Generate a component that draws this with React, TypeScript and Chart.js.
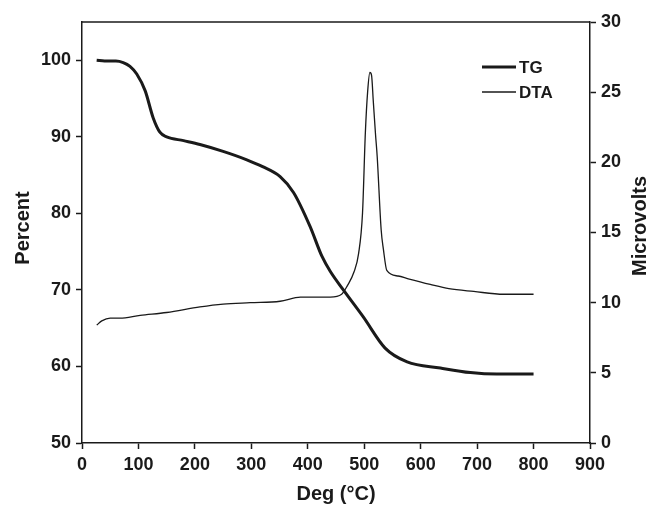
import React, { useEffect, useRef } from "react";
import { Chart, registerables } from "chart.js";

Chart.register(...registerables);

const tgTemp = [26, 40, 60, 73, 85, 97, 112, 126, 138, 150, 180, 209, 250, 292, 320, 351, 375, 404, 425, 440, 463, 498, 537, 576, 635, 688, 735, 800];
const tgPercent = [100.0, 99.9, 99.9, 99.7, 99.2, 98.2, 96.0, 92.5, 90.6, 90.0, 89.5, 89.0, 88.1, 87.0, 86.1, 84.8, 82.7, 78.3, 74.4, 72.4, 70.0, 66.5, 62.4, 60.6, 59.8, 59.2, 59.0, 59.0];

const dtaTemp = [26, 35, 50, 67, 103, 150, 209, 250, 298, 351, 387, 440, 460, 470, 482, 490, 497, 502, 506, 510, 513, 516, 520, 523, 530, 534, 540, 560, 578, 617, 650, 694, 747, 800];
const dtaMicrovolts = [8.4, 8.7, 8.9, 8.9, 9.1, 9.3, 9.7, 9.9, 10.0, 10.1, 10.4, 10.4, 10.6, 11.2, 12.2, 13.5, 16.4, 22.1, 25.0, 26.4, 26.2, 24.4, 22.0, 20.4, 15.2, 13.8, 12.3, 11.9, 11.7, 11.3, 11.0, 10.8, 10.6, 10.6];

const leftTicks = [50, 60, 70, 80, 90, 100];
const rightTicks = [0, 5, 10, 15, 20, 25, 30];
const xTicks = [0, 100, 200, 300, 400, 500, 600, 700, 800, 900];

const seriesNames = ["TG", "DTA"];
const axisTitles = { x: "Deg (°C)", left: "Percent", right: "Microvolts" };

const FONT = "'Liberation Sans', Arial, sans-serif";
const INK = "#1a1a1a";

const decorPlugin = {
  id: "decor",
  afterDraw(chart: any) {
    const ctx = chart.ctx;
    const a = chart.chartArea;
    ctx.save();
    // top border
    ctx.strokeStyle = INK;
    ctx.lineWidth = 1.5;
    ctx.beginPath();
    ctx.moveTo(a.left, a.top);
    ctx.lineTo(a.right, a.top);
    ctx.stroke();

    // titles
    ctx.fillStyle = INK;
    ctx.font = `bold 20px ${FONT}`;
    ctx.textAlign = "center";
    ctx.textBaseline = "middle";
    ctx.fillText(axisTitles.x, (a.left + a.right) / 2, 494);

    ctx.save();
    ctx.translate(23, 228);
    ctx.rotate(-Math.PI / 2);
    ctx.fillText(axisTitles.left, 0, 0);
    ctx.restore();

    ctx.save();
    ctx.translate(640, 226);
    ctx.rotate(-Math.PI / 2);
    ctx.fillText(axisTitles.right, 0, 0);
    ctx.restore();

    // legend
    const ys = [67, 92];
    const widths = [3, 1.3];
    ctx.font = `bold 17px ${FONT}`;
    ctx.textAlign = "left";
    for (let i = 0; i < seriesNames.length; i++) {
      ctx.lineWidth = widths[i];
      ctx.beginPath();
      ctx.moveTo(482, ys[i]);
      ctx.lineTo(516, ys[i]);
      ctx.stroke();
      ctx.fillText(seriesNames[i], 519, ys[i] + 1);
    }
    ctx.restore();
  },
};

export default function App() {
  const ref = useRef<HTMLCanvasElement | null>(null);

  useEffect(() => {
    document.body.style.margin = "0";
    const canvas = ref.current;
    if (!canvas) return;

    const tickFont = { family: FONT, size: 18, weight: "bold" as const };

    const chart = new Chart(canvas, {
      type: "line",
      data: {
        datasets: [
          {
            label: seriesNames[0],
            data: tgTemp.map((t, i) => ({ x: t, y: tgPercent[i] })),
            borderColor: INK,
            borderWidth: 3,
            pointRadius: 0,
            cubicInterpolationMode: "monotone",
            yAxisID: "y",
          },
          {
            label: seriesNames[1],
            data: dtaTemp.map((t, i) => ({ x: t, y: dtaMicrovolts[i] })),
            borderColor: INK,
            borderWidth: 1.3,
            pointRadius: 0,
            cubicInterpolationMode: "monotone",
            yAxisID: "y1",
          },
        ],
      },
      options: {
        responsive: false,
        animation: false,
        layout: { padding: { top: 22, left: 0, right: 0, bottom: 0 } },
        plugins: { legend: { display: false }, tooltip: { enabled: false } },
        scales: {
          x: {
            type: "linear",
            min: 0,
            max: 900,
            afterBuildTicks: (s: any) => {
              s.ticks = xTicks.map((v) => ({ value: v }));
            },
            afterFit: (s: any) => {
              s.height = 64;
            },
            ticks: { font: tickFont, color: INK, padding: 5, maxRotation: 0 },
            grid: { drawOnChartArea: false, drawTicks: true, tickLength: 6, tickColor: INK, tickWidth: 1.5 },
            border: { display: true, color: INK, width: 1.5 },
          },
          y: {
            type: "linear",
            position: "left",
            min: 50,
            max: 105,
            afterBuildTicks: (s: any) => {
              s.ticks = leftTicks.map((v) => ({ value: v }));
            },
            afterFit: (s: any) => {
              s.width = 82;
            },
            ticks: { font: tickFont, color: INK, padding: 5 },
            grid: { drawOnChartArea: false, drawTicks: true, tickLength: 6, tickColor: INK, tickWidth: 1.5 },
            border: { display: true, color: INK, width: 1.5 },
          },
          y1: {
            type: "linear",
            position: "right",
            min: 0,
            max: 30,
            afterBuildTicks: (s: any) => {
              s.ticks = rightTicks.map((v) => ({ value: v }));
            },
            afterFit: (s: any) => {
              s.width = 65;
            },
            ticks: { font: tickFont, color: INK, padding: 5 },
            grid: { drawOnChartArea: false, drawTicks: true, tickLength: 6, tickColor: INK, tickWidth: 1.5 },
            border: { display: true, color: INK, width: 1.5 },
          },
        },
      },
      plugins: [decorPlugin],
    });

    return () => chart.destroy();
  }, []);

  return (
    <div style={{ width: 655, height: 507, background: "#fff" }}>
      <canvas ref={ref} width={655} height={507} />
    </div>
  );
}
